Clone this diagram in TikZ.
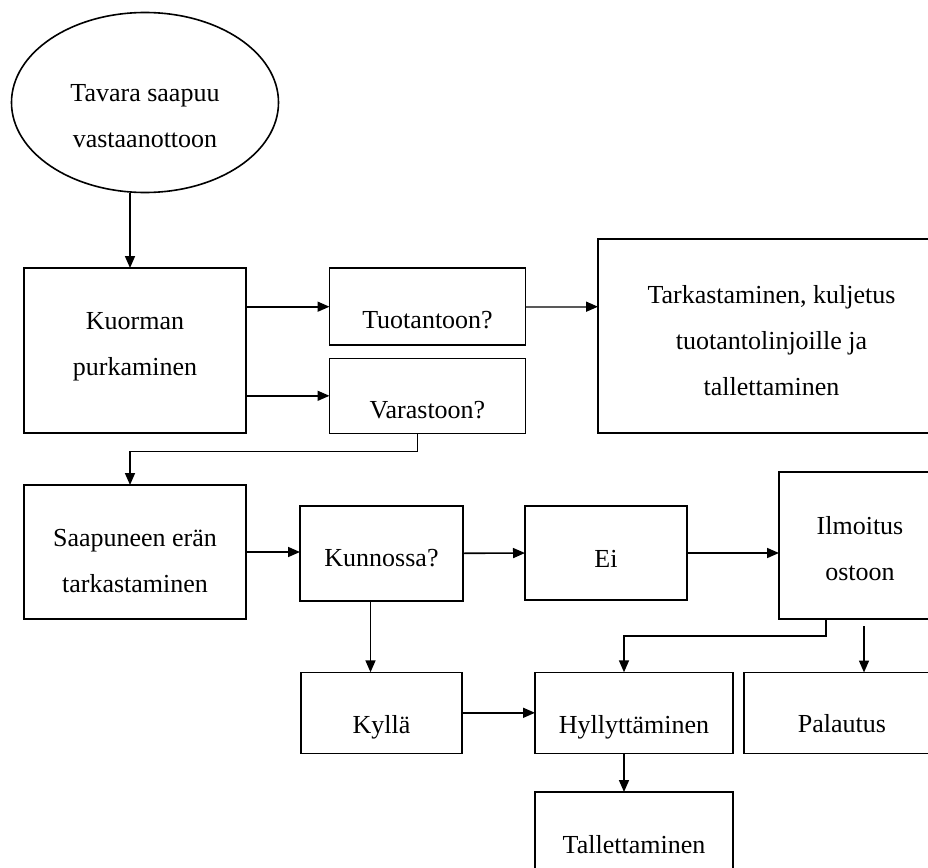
\documentclass[tikz,border=0pt]{standalone}
\usepackage{fontspec}
\setmainfont{Liberation Serif}
\usetikzlibrary{arrows.meta,shapes.geometric,positioning,calc}

\begin{document}
\begin{tikzpicture}[x=1pt, y=-1pt, >={Triangle[length=12pt,width=10pt]}, line width=1.6pt,
  font=\fontsize{26}{46}\selectfont]
\tikzstyle{box}=[rectangle,draw=black,inner sep=0pt,outer sep=0pt,align=center,text depth=0pt]
\clip (0,0) rectangle (928,867);

\node[ellipse, draw=black, inner sep=0pt, minimum width=267pt, minimum height=180pt, align=center, text depth=0pt, text height=89pt] (tavara) at (145,102.5) {Tavara saapuu\\vastaanottoon};
\node[box, minimum width=222pt, minimum height=165pt, text height=49pt] (kuorm) at (135,350.5) {Kuorman\\purkaminen};
\node[box, minimum width=196pt, minimum height=77pt, text height=43pt] (tuot) at (427.5,306.7) {Tuotantoon?};
\node[box, minimum width=196pt, minimum height=75pt, text height=46pt] (var) at (427.5,395.8) {Varastoon?};
\node[box, minimum width=347pt, minimum height=194pt, text height=118pt] (tark) at (771.5,336) {Tarkastaminen, kuljetus\\tuotantolinjoille ja\\tallettaminen};
\node[box, minimum width=222pt, minimum height=134pt, text height=81.6pt] (saap) at (135,552) {Saapuneen erän\\tarkastaminen};
\node[box, minimum width=163pt, minimum height=95pt, text height=27pt] (kunn) at (381.5,553.3) {Kunnossa?};
\node[box, minimum width=162pt, minimum height=94pt, text height=29pt] (ei) at (606,553) {Ei};
\node[box, minimum width=162pt, minimum height=147pt, text height=69pt] (ilm) at (860,545.5) {Ilmoitus\\ostoon};
\node[box, minimum width=161pt, minimum height=81pt, text height=42pt] (kyl) at (381.5,712.8) {Kyllä};
\node[box, minimum width=198pt, minimum height=81pt, text height=42pt] (hyl) at (634,712.8) {Hyllyttäminen};
\node[box, minimum width=196pt, minimum height=81pt, text height=39pt] (pal) at (842,713) {Palautus};
\node[box, minimum width=198pt, minimum height=81pt, text height=42pt] (tal) at (634,832.5) {Tallettaminen};

% points where the vertical arrows leave or enter the boxes
\coordinate (k1) at ([xshift=-5pt]kuorm.north);
\coordinate (v1) at ([xshift=-10pt]var.south);
\coordinate (s1) at ([xshift=-5pt]saap.north);
\coordinate (i1) at ([xshift=-34pt]ilm.south);
\coordinate (i2) at ([xshift=4pt]ilm.south);
\coordinate (h1) at ([xshift=-10pt]hyl.north);
\coordinate (h2) at ([xshift=-10pt]hyl.south);
\coordinate (c1) at ([xshift=-11pt]kunn.south);

\path[->]
(tavara.south -| k1) edge (k1)
(kuorm.east |- tuot.west) edge (tuot.west)
(kuorm.east |- var.west) edge (var.west)
(saap.east) edge (saap.east -| kunn.west)
(kunn.east) edge (ei.west)
(ei.east) edge (ei.east -| ilm.west)
(c1) edge (c1 |- kyl.north)
(kyl.east) edge (hyl.west)
(h2) edge (h2 |- tal.north);
\draw[-{Triangle[length=12pt,width=10pt,color=black]}, black!65] (tuot.east) -- (tuot.east -| tark.west);
\draw[->] (v1) -- ++(0,18) -| (s1);
\draw[->] (i1) -- ++(0,17) -| (h1);
\draw[->, shorten <=7pt] (i2) -- (i2 |- pal.north);
\end{tikzpicture}
\end{document}
